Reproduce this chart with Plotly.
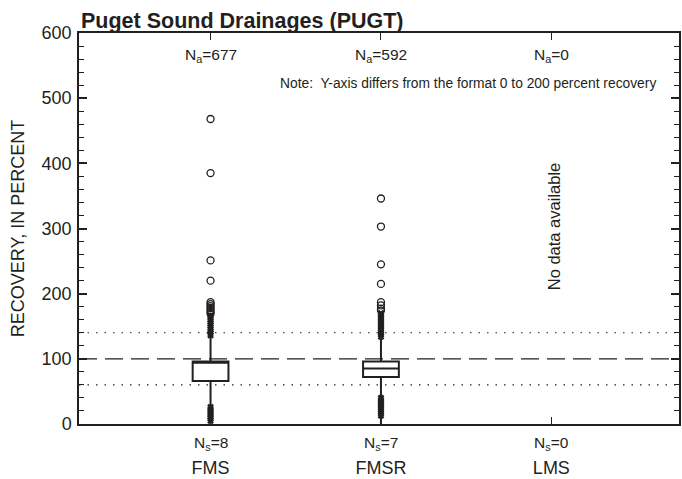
import plotly.graph_objects as go

categories = ["FMS", "FMSR", "LMS"]
n_analyses = [677, 592, 0]
n_sites = [8, 7, 0]

# box statistics (percent recovery)
q1 = [66, 72]
median = [94, 85]
q3 = [96, 96]
lower_fence = [0, 0]
upper_fence = [134, 131]

# values plotted as x beyond whiskers (within outer range)
fms_x = [136, 139, 142, 145, 148, 151, 154, 157, 160, 163, 166, 5, 8, 11, 14, 17, 20, 23, 26]
fmsr_x = [134, 137, 140, 143, 146, 149, 152, 155, 158, 161, 164, 167, 170, 13, 16, 19, 22, 25, 28, 31, 34, 37, 40]
# far outliers plotted as open circles
fms_o = [468, 385, 251, 220, 187, 184, 181, 178, 175, 172, 169]
fmsr_o = [346, 303, 245, 215, 187, 182, 177, 174]

ref_dashed = [100]
ref_dotted = [60, 140]

FONT = "Liberation Sans, Arial, Helvetica, sans-serif"
INK = "#231f20"
xpos = [0, 1, 2]

fig = go.Figure()
for i in range(2):
    fig.add_trace(go.Box(
        x=[xpos[i]], q1=[q1[i]], median=[median[i]], q3=[q3[i]],
        lowerfence=[lower_fence[i]], upperfence=[upper_fence[i]],
        boxpoints=False, width=0.21, whiskerwidth=0,
        fillcolor="white", line=dict(color=INK, width=2),
        showlegend=False,
    ))

fig.add_trace(go.Scatter(
    x=[xpos[0]] * len(fms_x) + [xpos[1]] * len(fmsr_x), y=fms_x + fmsr_x,
    mode="markers", marker=dict(symbol="x", size=6, color=INK),
    showlegend=False,
))
fig.add_trace(go.Scatter(
    x=[xpos[0]] * len(fms_o) + [xpos[1]] * len(fmsr_o), y=fms_o + fmsr_o,
    mode="markers",
    marker=dict(symbol="circle-open", size=7, color=INK, line=dict(width=1.3, color=INK)),
    showlegend=False,
))

shapes = []
for v in ref_dashed:
    shapes.append(dict(type="line", xref="paper", x0=0, x1=1, yref="y", y0=v, y1=v,
                       line=dict(color=INK, width=1.2, dash="18px,8px"), layer="below"))
for v in ref_dotted:
    shapes.append(dict(type="line", xref="paper", x0=0, x1=1, yref="y", y0=v, y1=v,
                       line=dict(color=INK, width=1.2, dash="1.5px,7px"), layer="below"))

ann = []
for i, c in enumerate(categories):
    ann.append(dict(x=xpos[i], y=566, xref="x", yref="y", showarrow=False,
                    text=f"N<sub>a</sub>={n_analyses[i]}", font=dict(size=15.5, family=FONT, color=INK)))
    ann.append(dict(x=xpos[i], y=-0.05, xref="x", yref="paper", yanchor="middle", showarrow=False,
                    text=f"N<sub>s</sub>={n_sites[i]}", font=dict(size=15.5, family=FONT, color=INK)))
ann.append(dict(x=0.965, y=522, xref="paper", yref="y", xanchor="right", showarrow=False,
                text="Note:  Y-axis differs from the format 0 to 200 percent recovery",
                font=dict(size=13.8, family=FONT, color=INK)))
ann.append(dict(x=2, xshift=3, y=304, xref="x", yref="y", showarrow=False, textangle=-90,
                text="No data available", font=dict(size=16.5, family=FONT, color=INK)))
ann.append(dict(x=0, y=1, xref="paper", yref="paper", xanchor="left", yanchor="bottom", yshift=-2,
                showarrow=False, text="<b>Puget Sound Drainages (PUGT)</b>",
                font=dict(size=21.5, family=FONT, color=INK)))

fig.update_layout(
    width=682, height=479,
    margin=dict(l=79, r=1, t=33, b=54),
    paper_bgcolor="white", plot_bgcolor="white",
    font=dict(family=FONT, color=INK),
    shapes=shapes, annotations=ann,
    xaxis=dict(range=[-0.772, 2.749], tickvals=xpos, ticktext=categories,
               ticks="inside", ticklen=7, tickwidth=1, tickcolor=INK,
               showline=True, linecolor=INK, linewidth=1.5, mirror="ticks",
               showgrid=False, zeroline=False, ticklabelstandoff=27,
               tickfont=dict(size=18, family=FONT, color=INK)),
    yaxis=dict(range=[0, 600], tickvals=[0, 100, 200, 300, 400, 500, 600],
               ticks="inside", ticklen=8, tickwidth=1.5, tickcolor=INK,
               minor=dict(dtick=20, ticks="inside", ticklen=5, tickwidth=1, tickcolor=INK),
               showline=True, linecolor=INK, linewidth=1.5, mirror="ticks",
               showgrid=False, zeroline=False, ticklabelstandoff=2,
               tickfont=dict(size=18, family=FONT, color=INK),
               title=dict(text="RECOVERY, IN PERCENT", standoff=12,
                          font=dict(size=18, family=FONT, color=INK))),
)

fig.write_html("out.html")
